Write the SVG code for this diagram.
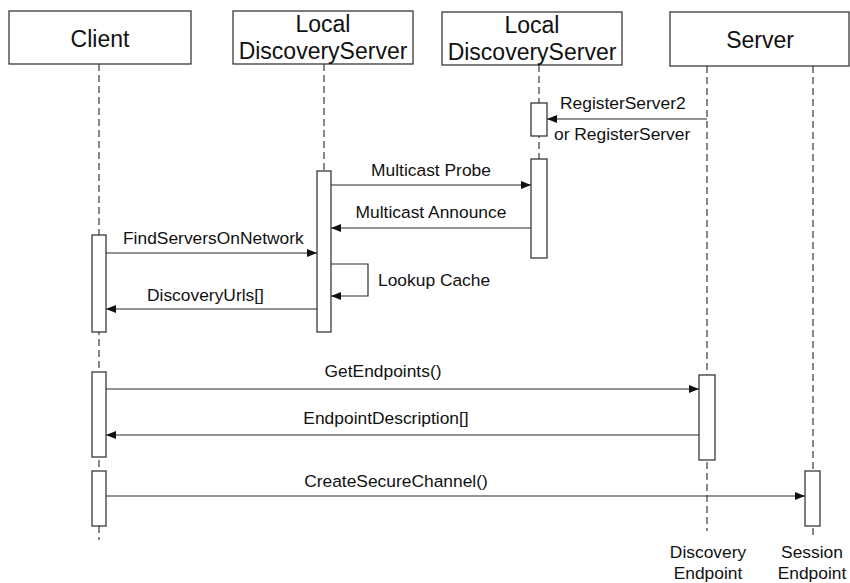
<svg xmlns="http://www.w3.org/2000/svg" width="850" height="583" viewBox="0 0 850 583">
  <defs>
    <style>
      .box { fill: #ffffff; stroke: #3a3a3a; stroke-width: 1.3; }
      .act { fill: #ffffff; stroke: #3a3a3a; stroke-width: 1.3; }
      .life { fill: none; stroke: #3a3a3a; stroke-width: 1.2; stroke-dasharray: 7 4; }
      .msg { fill: none; stroke: #2a2a2a; stroke-width: 1.2; marker-end: url(#arrow); }
      .title { font-family: "Liberation Sans", Arial, sans-serif; font-size: 23px; fill: #111111; text-anchor: middle; }
      .lbl { font-family: "Liberation Sans", Arial, sans-serif; font-size: 17.4px; fill: #111111; }
      .mid { text-anchor: middle; }
    </style>
    <marker id="arrow" viewBox="0 0 10 8" refX="10" refY="4" markerWidth="10" markerHeight="8" markerUnits="userSpaceOnUse" orient="auto">
      <path d="M0,0 L10,4 L0,8 Z" fill="#111111"/>
    </marker>
  </defs>

  <!-- lifelines -->
  <g id="lifelines">
    <line class="life" x1="99" y1="64" x2="99" y2="540"/>
    <line class="life" x1="324" y1="64" x2="324" y2="332"/>
    <line class="life" x1="539" y1="65" x2="539" y2="258"/>
    <line class="life" x1="707" y1="66" x2="707" y2="531"/>
    <line class="life" x1="813" y1="66" x2="813" y2="536"/>
  </g>

  <!-- participants -->
  <g id="client">
    <rect class="box" x="9" y="11" width="182" height="53"/>
    <text class="title" x="100" y="47">Client</text>
  </g>
  <g id="lds1">
    <rect class="box" x="233" y="11" width="180" height="53"/>
    <text class="title" x="323" y="32">Local</text>
    <text class="title" x="323" y="59">DiscoveryServer</text>
  </g>
  <g id="lds2">
    <rect class="box" x="442" y="12" width="180" height="53"/>
    <text class="title" x="532" y="33">Local</text>
    <text class="title" x="532" y="60">DiscoveryServer</text>
  </g>
  <g id="server">
    <rect class="box" x="670" y="12" width="179" height="54"/>
    <text class="title" x="760" y="48">Server</text>
  </g>

  <!-- activations -->
  <g id="activations">
    <rect class="act" x="531" y="103" width="16" height="33"/>
    <rect class="act" x="531" y="159" width="16" height="99"/>
    <rect class="act" x="317" y="171" width="14" height="161"/>
    <rect class="act" x="92" y="235" width="14" height="97"/>
    <rect class="act" x="92" y="372" width="14" height="85"/>
    <rect class="act" x="92" y="471" width="14" height="55"/>
    <rect class="act" x="699" y="375" width="16" height="85"/>
    <rect class="act" x="805" y="471" width="15" height="55"/>
  </g>

  <!-- messages -->
  <g id="connectors">
    <line class="msg" x1="707" y1="119" x2="547" y2="119"/>
    <line class="msg" x1="331" y1="185" x2="531" y2="185"/>
    <line class="msg" x1="531" y1="228" x2="331" y2="228"/>
    <line class="msg" x1="106" y1="253" x2="317" y2="253"/>
    <polyline class="msg" points="331,264 368,264 368,296 331,296"/>
    <line class="msg" x1="317" y1="309" x2="106" y2="309"/>
    <line class="msg" x1="106" y1="389" x2="699" y2="389"/>
    <line class="msg" x1="699" y1="435" x2="106" y2="435"/>
    <line class="msg" x1="106" y1="496" x2="805" y2="496"/>
  </g>

  <!-- message labels -->
  <g id="labels">
    <text class="lbl" x="560" y="109">RegisterServer2</text>
    <text class="lbl" x="554" y="140">or RegisterServer</text>
    <text class="lbl mid" x="431" y="176">Multicast Probe</text>
    <text class="lbl mid" x="431" y="218">Multicast Announce</text>
    <text class="lbl" x="123" y="244">FindServersOnNetwork</text>
    <text class="lbl" x="378" y="286">Lookup Cache</text>
    <text class="lbl" x="147" y="301">DiscoveryUrls[]</text>
    <text class="lbl mid" x="383" y="377">GetEndpoints()</text>
    <text class="lbl mid" x="386" y="424">EndpointDescription[]</text>
    <text class="lbl mid" x="396" y="487">CreateSecureChannel()</text>
  </g>

  <!-- endpoint captions -->
  <g id="discovery-endpoint">
    <text class="lbl mid" x="708" y="558">Discovery</text>
    <text class="lbl mid" x="708" y="579">Endpoint</text>
  </g>
  <g id="session-endpoint">
    <text class="lbl mid" x="812" y="558">Session</text>
    <text class="lbl mid" x="812" y="579">Endpoint</text>
  </g>
</svg>
